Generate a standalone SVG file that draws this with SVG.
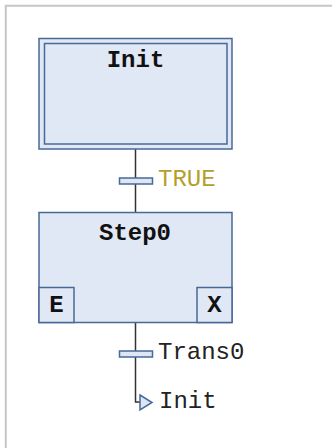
<svg xmlns="http://www.w3.org/2000/svg" width="332" height="448" viewBox="0 0 332 448">
<style>
.box{fill:#e0e8f5;stroke:#4a6896;stroke-width:1.5}
.bar{fill:#dce6f4;stroke:#4a6896;stroke-width:1.5}
.wire{fill:none;stroke:#333;stroke-width:1.5}
.t{font-family:"Liberation Mono","Courier New",monospace;font-size:24px}
.b{font-weight:bold;fill:#111}
</style>
<rect x="0" y="0" width="332" height="448" fill="#fff"/>
<path d="M5.75 448 V5.75 H332" fill="none" stroke="#c6c6c6" stroke-width="2"/>
<g id="connectors">
<line class="wire" x1="135.5" y1="149" x2="135.5" y2="212.5"/>
<path class="wire" d="M135.5 322.5 V402 H140"/>
</g>
<g id="Init">
<rect class="box" x="39" y="38.5" width="193" height="110.5"/>
<rect class="box" x="44.5" y="43.5" width="182.5" height="100.5"/>
<text class="t b" x="135.5" y="66.5" text-anchor="middle">Init</text>
</g>
<g id="TRUE">
<rect class="bar" x="119.5" y="178" width="33" height="6"/>
<text class="t" x="158" y="185.5" fill="#b3a02a">TRUE</text>
</g>
<g id="Step0">
<rect class="box" x="39" y="212.5" width="193" height="110"/>
<rect class="box" x="39" y="287.5" width="35" height="35"/>
<rect class="box" x="197" y="287.5" width="35" height="35"/>
<text class="t b" x="135" y="240" text-anchor="middle">Step0</text>
<text class="t b" x="56.5" y="311.5" text-anchor="middle">E</text>
<text class="t b" x="214.5" y="311.5" text-anchor="middle">X</text>
</g>
<g id="Trans0">
<rect class="bar" x="119.5" y="351" width="33" height="6"/>
<text class="t" x="158" y="359" fill="#222">Trans0</text>
</g>
<g id="JumpInit">
<polygon class="bar" points="140,395 152,402.5 140,410"/>
<text class="t" x="159" y="408" fill="#222">Init</text>
</g>
</svg>
